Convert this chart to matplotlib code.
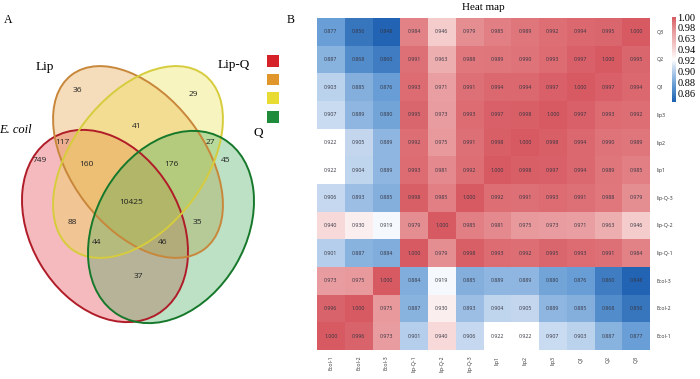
import numpy as np
import matplotlib
matplotlib.use("Agg")
import matplotlib.pyplot as plt
from matplotlib.patches import Ellipse, Rectangle
from matplotlib.colors import LinearSegmentedColormap, Normalize

# Venn counts: (label, x, y) placed in the region they belong to
venn_counts = ["36", "29", "41", "117", "27", "749", "160", "176", "45",
               "10425", "88", "35", "44", "46", "37"]
venn_x = [77, 193, 137, 62, 210, 40, 86, 171, 226, 131, 72, 197, 97, 163, 138]
venn_y = [90, 95, 127, 142, 142, 160, 164, 164, 160, 202, 223, 223, 243, 243, 277]

set_names = ["E. coil", "Lip", "Lip-Q", "Q"]

# heat map (sample order, rows bottom->top and columns left->right)
samples = ["Ecol-1", "Ecol-2", "Ecol-3", "lip-Q-1", "lip-Q-2", "lip-Q-3",
           "lip1", "lip2", "lip3", "Q1", "Q2", "Q3"]
corr = [
    [1.000, 0.996, 0.973, 0.901, 0.940, 0.906, 0.922, 0.922, 0.907, 0.903, 0.887, 0.877],
    [0.996, 1.000, 0.975, 0.887, 0.930, 0.893, 0.904, 0.905, 0.889, 0.885, 0.868, 0.856],
    [0.973, 0.975, 1.000, 0.884, 0.919, 0.885, 0.889, 0.889, 0.880, 0.876, 0.860, 0.848],
    [0.901, 0.887, 0.884, 1.000, 0.979, 0.998, 0.993, 0.992, 0.995, 0.993, 0.991, 0.984],
    [0.940, 0.930, 0.919, 0.979, 1.000, 0.985, 0.981, 0.975, 0.973, 0.971, 0.963, 0.946],
    [0.906, 0.893, 0.885, 0.998, 0.985, 1.000, 0.992, 0.991, 0.993, 0.991, 0.988, 0.979],
    [0.922, 0.904, 0.889, 0.993, 0.981, 0.992, 1.000, 0.998, 0.997, 0.994, 0.989, 0.985],
    [0.922, 0.905, 0.889, 0.992, 0.975, 0.991, 0.998, 1.000, 0.998, 0.994, 0.990, 0.989],
    [0.907, 0.889, 0.880, 0.995, 0.973, 0.993, 0.997, 0.998, 1.000, 0.997, 0.993, 0.992],
    [0.903, 0.885, 0.876, 0.993, 0.971, 0.991, 0.994, 0.994, 0.997, 1.000, 0.997, 0.994],
    [0.887, 0.868, 0.860, 0.991, 0.963, 0.988, 0.989, 0.990, 0.993, 0.997, 1.000, 0.995],
    [0.877, 0.856, 0.848, 0.984, 0.946, 0.979, 0.985, 0.989, 0.992, 0.994, 0.995, 1.000],
]
cbar_ticks = [1.00, 0.98, 0.96, 0.94, 0.92, 0.90, 0.88, 0.86]
cbar_labels = ["1.00", "0.98", "0.63", "0.94", "0.92", "0.90", "0.88", "0.86"]

W, H = 700, 379
fig = plt.figure(figsize=(W / 100, H / 100), dpi=100)
serif = "Liberation Serif"
numfont = "Open Sans"

# ---- panel A: Venn diagram, axes in pixel units ----
ax = fig.add_axes([0, 0, 300 / W, 1])
ax.set_xlim(0, 300)
ax.set_ylim(H, 0)
ax.axis("off")

# (cx, cy, width, height, angle, face, edge)
ellipses = [
    (105, 226, 205, 150, 59.4, "#e0303a", "#b01c28"),
    (138, 162, 219, 133, 52.6, "#e39a34", "#c8873a"),
    (138, 162, 219, 133, 127.4, "#ece040", "#d6cc3c"),
    (171, 227, 205, 150, 120.6, "#38a650", "#16782a"),
]
for cx, cy, w, h, ang, fc, ec in ellipses:
    ax.add_patch(Ellipse((cx, cy), w, h, angle=ang, facecolor=fc, alpha=0.33,
                         edgecolor="none"))
for cx, cy, w, h, ang, fc, ec in ellipses:
    ax.add_patch(Ellipse((cx, cy), w, h, angle=ang, facecolor="none",
                         edgecolor=ec, lw=1.4))

for t, x, y in zip(venn_counts, venn_x, venn_y):
    ax.text(x, y, t, ha="center", va="center", fontsize=6, family=numfont,
            color="#222222")

ax.text(4, 20, "A", fontsize=8.5, family=serif, va="center")
ax.text(32, 130, set_names[0], fontsize=9, family=serif, style="italic",
        ha="right", va="center")
ax.text(45, 67, set_names[1], fontsize=9.5, family=serif, ha="center", va="center")
ax.text(234, 65, set_names[2], fontsize=9.5, family=serif, ha="center", va="center")
ax.text(258, 133, set_names[3], fontsize=9.5, family=serif, ha="center", va="center")

legend_cols = ["#d42228", "#e0962a", "#e8dc34", "#1e8c3a"]
for i, c in enumerate(legend_cols):
    ax.add_patch(Rectangle((267, 55 + i * 18.7), 11.5, 11.5, facecolor=c,
                           edgecolor="none"))

# ---- panel B: heat map ----
data = np.array(corr)
n = len(samples)
cmap = LinearSegmentedColormap.from_list("bwr_soft", [
    (0.0, "#1c5fb0"),
    ((0.877 - 0.845) / 0.155, "#6a9fd6"),
    ((0.905 - 0.845) / 0.155, "#c2d6ee"),
    ((0.922 - 0.845) / 0.155, "#ffffff"),
    ((0.946 - 0.845) / 0.155, "#f4cccc"),
    ((0.975 - 0.845) / 0.155, "#e8999c"),
    (1.0, "#d75a62"),
])
norm = Normalize(vmin=0.845, vmax=1.0)

hx = fig.add_axes([317 / W, (H - 350) / H, 333 / W, 332 / H])
mesh = hx.pcolormesh(np.arange(n + 1), np.arange(n + 1), data, cmap=cmap,
                     norm=norm, shading="flat")
for i in range(n):
    for j in range(n):
        hx.text(j + 0.5, i + 0.5, f"{data[i, j]:.3f}", ha="center", va="center",
                fontsize=3.8, family=numfont, color="#333340")
hx.set_xlim(0, n)
hx.set_ylim(0, n)
hx.set_xticks(np.arange(n) + 0.5)
hx.set_xticklabels(samples, rotation=90, fontsize=3.8, family=numfont)
hx.set_yticks(np.arange(n) + 0.5)
hx.set_yticklabels(samples, fontsize=3.8, family=numfont)
hx.yaxis.tick_right()
hx.tick_params(axis="both", length=0, colors="#333333")
hx.tick_params(axis="x", pad=4)
hx.tick_params(axis="y", pad=5)
for s in hx.spines.values():
    s.set_visible(False)

fig.text(291 / W, 1 - 20 / H, "B", fontsize=8.5, family=serif, ha="center",
         va="center")
fig.text(483 / W, 1 - 8 / H, "Heat map", fontsize=8, family=serif, ha="center",
         va="center")

cax = fig.add_axes([672 / W, (H - 102) / H, 3.5 / W, 85 / H])
cb = fig.colorbar(mesh, cax=cax, ticks=cbar_ticks)
cb.ax.set_yticklabels(cbar_labels, family=serif, fontsize=7.5)
cb.ax.tick_params(length=0, pad=1.5)
cb.outline.set_visible(False)

fig.savefig("out.png", dpi=100)
